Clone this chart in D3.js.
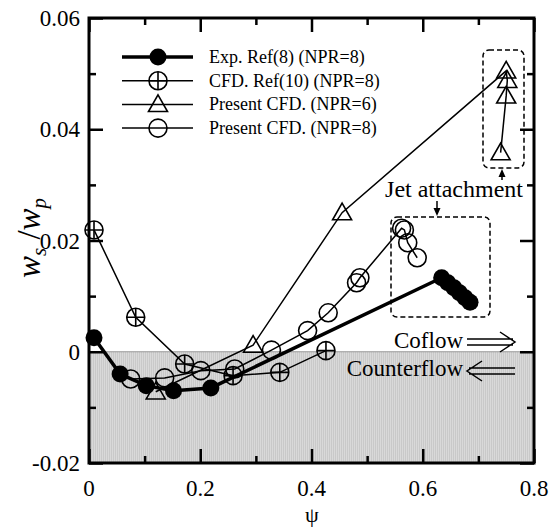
<!DOCTYPE html>
<html>
<head>
<meta charset="utf-8">
<script src="https://cdn.jsdelivr.net/npm/d3@7"></script>
<style>
  body { margin: 0; background: #fff; }
  text { font-family: "Liberation Serif", "Times New Roman", serif; }
</style>
</head>
<body>
<div id="chart"></div>
<script>
// Exp. Ref(8) (NPR=8) - filled circles, thick line
var expPsi = [0.009, 0.056, 0.103, 0.152, 0.219, 0.634, 0.645, 0.656, 0.666, 0.676, 0.685]
var expVal = [0.0025, -0.0040, -0.0061, -0.0070, -0.0065, 0.0133, 0.0124, 0.0115, 0.0106, 0.0097, 0.0089]

// CFD. Ref(10) (NPR=8) - crossed circles
var refPsi = [0.009, 0.084, 0.172, 0.259, 0.343, 0.426]
var refVal = [0.0219, 0.0062, -0.0022, -0.0043, -0.0037, 0.0002]

// Present CFD. (NPR=6) - triangles
var triPsi = [0.120, 0.295, 0.455, 0.750, 0.752, 0.750, 0.740]
var triVal = [-0.0072, 0.0012, 0.0250, 0.0505, 0.0488, 0.0460, 0.0358]

// Present CFD. (NPR=8) - open circles
var cirPsi = [0.075, 0.136, 0.201, 0.262, 0.328, 0.393, 0.430, 0.481, 0.487, 0.562, 0.567, 0.573, 0.590]
var cirVal = [-0.0049, -0.0047, -0.0034, -0.0031, 0.0003, 0.0038, 0.0070, 0.0124, 0.0133, 0.0222, 0.0219, 0.0196, 0.0169]

var xMajor = [0, 0.2, 0.4, 0.6, 0.8]
var xMinor = [0.1, 0.3, 0.5, 0.7]
var yMajor = [-0.02, 0, 0.02, 0.04, 0.06]
var yMinor = [-0.01, 0.01, 0.03, 0.05]
var legendLabels = ["Exp. Ref(8) (NPR=8)", "CFD. Ref(10) (NPR=8)", "Present CFD. (NPR=6)", "Present CFD. (NPR=8)"]

var margin = {top: 18, right: 25, bottom: 64, left: 89},
    width = 559 - margin.left - margin.right,
    height = 527 - margin.top - margin.bottom;

var svg = d3.select("#chart").append("svg")
  .attr("width", 559)
  .attr("height", 527)

var defs = svg.append("defs")
var pat = defs.append("pattern")
  .attr("id", "stripes")
  .attr("patternUnits", "userSpaceOnUse")
  .attr("width", 2).attr("height", 4)
pat.append("rect").attr("width", 2).attr("height", 4).attr("fill", "#d9d9d9")
pat.append("rect").attr("width", 1).attr("height", 4).attr("fill", "#c9c9c9")

var g = svg.append("g").attr("transform", `translate(${margin.left},${margin.top})`)

var x = d3.scaleLinear().domain([0, 0.8]).range([0, width])
var y = d3.scaleLinear().domain([-0.02, 0.06]).range([height, 0])

// counterflow shaded region
g.append("rect")
  .attr("x", 0).attr("y", y(0))
  .attr("width", width).attr("height", y(-0.02) - y(0))
  .attr("fill", "url(#stripes)")
g.append("line")
  .attr("x1", 0).attr("x2", width).attr("y1", y(0)).attr("y2", y(0))
  .attr("stroke", "#999").attr("stroke-width", 1)

// axes (ticks inward), labels drawn separately
function styleAxis(sel) {
  sel.select(".domain").remove()
  sel.selectAll("line").attr("stroke", "#000").attr("stroke-width", 2.5)
  sel.selectAll("text").remove()
}
function tickAxes(axisFn, vals, size, tr) {
  g.append("g").attr("transform", tr)
    .call(axisFn.tickValues(vals).tickSize(-size).tickFormat(""))
    .call(styleAxis)
}
tickAxes(d3.axisBottom(x), xMajor, 14, `translate(0,${height})`)
tickAxes(d3.axisBottom(x), xMinor, 7, `translate(0,${height})`)
tickAxes(d3.axisTop(x), xMajor, 14, "translate(0,0)")
tickAxes(d3.axisTop(x), xMinor, 7, "translate(0,0)")
tickAxes(d3.axisLeft(y), yMajor, 14, "translate(0,0)")
tickAxes(d3.axisLeft(y), yMinor, 7, "translate(0,0)")
tickAxes(d3.axisRight(y), yMajor, 14, `translate(${width},0)`)
tickAxes(d3.axisRight(y), yMinor, 7, `translate(${width},0)`)

function fmt(v) { return v === 0 ? "0" : String(v) }
g.selectAll(".xlab").data(xMajor).enter().append("text")
  .attr("x", d => x(d)).attr("y", height + 33)
  .attr("text-anchor", "middle").style("font-size", "23px").text(fmt)
g.selectAll(".ylab").data(yMajor).enter().append("text")
  .attr("x", -9).attr("y", d => y(d)).attr("dy", "0.35em")
  .attr("text-anchor", "end").style("font-size", "23px").text(fmt)

// frame
g.append("rect").attr("width", width).attr("height", height)
  .attr("fill", "none").attr("stroke", "#000").attr("stroke-width", 3)

// marker drawing
function drawMarker(sel, type, cx, cy) {
  if (type === "filled") {
    sel.append("circle").attr("cx", cx).attr("cy", cy).attr("r", 8.5).attr("fill", "#000")
  } else if (type === "cross") {
    sel.append("circle").attr("cx", cx).attr("cy", cy).attr("r", 9)
      .attr("fill", "none").attr("stroke", "#000").attr("stroke-width", 1.6)
    sel.append("path").attr("d", `M${cx - 9},${cy}H${cx + 9}M${cx},${cy - 9}V${cy + 9}`)
      .attr("stroke", "#000").attr("stroke-width", 1.6)
  } else if (type === "tri") {
    var s = 9.5
    sel.append("path")
      .attr("d", `M${cx},${cy - s}L${cx + s},${cy + s * 0.75}L${cx - s},${cy + s * 0.75}Z`)
      .attr("fill", "none").attr("stroke", "#000").attr("stroke-width", 1.6)
  } else {
    sel.append("circle").attr("cx", cx).attr("cy", cy).attr("r", 9)
      .attr("fill", "none").attr("stroke", "#000").attr("stroke-width", 1.6)
  }
}

var series = [
  {psi: refPsi, val: refVal, type: "cross", lw: 1.5},
  {psi: triPsi, val: triVal, type: "tri", lw: 1.5},
  {psi: cirPsi, val: cirVal, type: "open", lw: 1.5},
  {psi: expPsi, val: expVal, type: "filled", lw: 3.5}
]

var lineFunc = d3.line().x(d => x(d[0])).y(d => y(d[1]))

series.forEach(function(s) {
  var pts = s.psi.map((p, i) => [p, s.val[i]])
  g.append("path").attr("d", lineFunc(pts))
    .attr("fill", "none").attr("stroke", "#000").attr("stroke-width", s.lw)
  var mg = g.append("g")
  pts.forEach(p => drawMarker(mg, s.type, x(p[0]), y(p[1])))
})

// legend
var legTypes = ["filled", "cross", "tri", "open"]
var legLw = [3.5, 1.5, 1.5, 1.5]
legendLabels.forEach(function(lab, i) {
  var ly = 57 + i * 23.7 - margin.top
  g.append("line").attr("x1", 122 - margin.left).attr("x2", 193 - margin.left)
    .attr("y1", ly).attr("y2", ly).attr("stroke", "#000").attr("stroke-width", legLw[i])
  drawMarker(g, legTypes[i], 158 - margin.left, ly)
  g.append("text").attr("x", 209 - margin.left).attr("y", ly).attr("dy", "0.33em")
    .style("font-size", "18px").text(lab)
})

// dashed boxes
svg.append("rect").attr("x", 483).attr("y", 50).attr("width", 41).attr("height", 118)
  .attr("rx", 6).attr("fill", "none").attr("stroke", "#000").attr("stroke-width", 1.5)
  .attr("stroke-dasharray", "5,3")
svg.append("rect").attr("x", 391).attr("y", 217).attr("width", 99).attr("height", 100)
  .attr("rx", 6).attr("fill", "none").attr("stroke", "#000").attr("stroke-width", 1.5)
  .attr("stroke-dasharray", "5,3")

// jet attachment annotation
svg.append("text").attr("x", 523).attr("y", 197).attr("text-anchor", "end")
  .style("font-size", "24px").text("Jet attachment")
function arrowHead(px, py, dir) {
  svg.append("path")
    .attr("d", `M${px},${py}L${px - 3.5},${py - dir * 8}L${px + 3.5},${py - dir * 8}Z`)
    .attr("fill", "#000")
}
svg.append("line").attr("x1", 502).attr("x2", 502).attr("y1", 180).attr("y2", 176).attr("stroke", "#000").attr("stroke-width", 1.5)
arrowHead(502, 169, -1)
svg.append("line").attr("x1", 437).attr("x2", 437).attr("y1", 201).attr("y2", 208).attr("stroke", "#000").attr("stroke-width", 1.5)
arrowHead(437, 216, 1)

// coflow / counterflow
svg.append("text").attr("x", 463).attr("y", 348).attr("text-anchor", "end")
  .style("font-size", "23px").text("Coflow")
svg.append("text").attr("x", 463).attr("y", 376).attr("text-anchor", "end")
  .style("font-size", "23px").text("Counterflow")
function doubleArrow(x0, x1, cy, dir) {
  var tip = dir > 0 ? x1 : x0
  var tail = dir > 0 ? x0 : x1
  var b = tip - dir * 15
  svg.append("path")
    .attr("d", `M${tail},${cy - 3}H${tip - dir * 2}M${tail},${cy + 3}H${tip - dir * 2}M${b},${cy - 10}L${tip},${cy}L${b},${cy + 10}`)
    .attr("fill", "none").attr("stroke", "#000").attr("stroke-width", 1.5)
}
doubleArrow(467, 515, 342, 1)
doubleArrow(467, 515, 371, -1)

// axis titles
svg.append("text").attr("x", 312).attr("y", 522).attr("text-anchor", "middle")
  .style("font-size", "22px").text("ψ")
var yl = svg.append("text").attr("transform", "translate(40,238) rotate(-90)")
  .attr("text-anchor", "middle").style("font-size", "33px")
yl.append("tspan").style("font-style", "italic").text("w")
yl.append("tspan").style("font-style", "italic").style("font-size", "21px").attr("dy", 6).text("s")
yl.append("tspan").attr("dy", -6).text(" /")
yl.append("tspan").style("font-style", "italic").text("w")
yl.append("tspan").style("font-style", "italic").style("font-size", "21px").attr("dy", 6).text("p")
</script>
</body>
</html>
